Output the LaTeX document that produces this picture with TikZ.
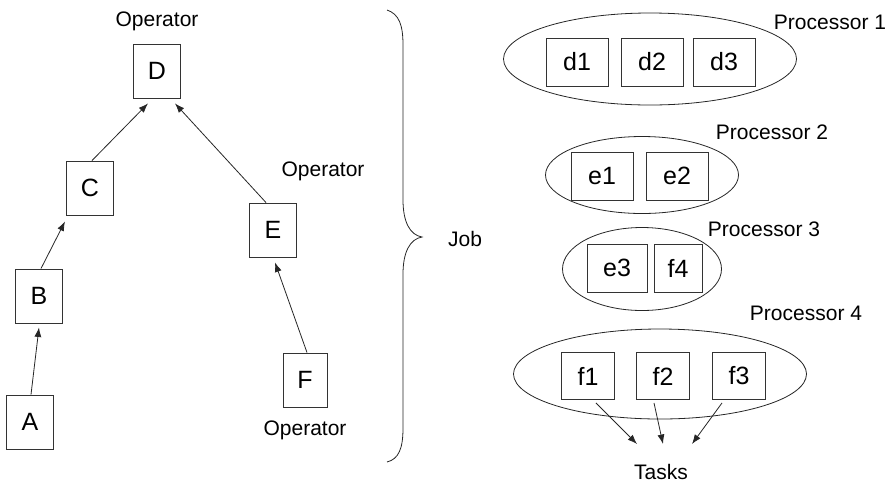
\documentclass[tikz,border=0pt]{standalone}
\usepackage{fontspec}
\setmainfont{Liberation Sans}
\usetikzlibrary{arrows.meta,shapes.geometric}
\begin{document}
\begin{tikzpicture}[x=1pt,y=-1pt,
  line width=0.8pt, draw=black!85,
  opbox/.style={draw=black!80, line width=0.9pt, fill=white, inner sep=0pt, minimum width=47pt, minimum height=54pt, font=\fontsize{25}{30}\selectfont},
  taskbox/.style={draw=black!80, line width=0.9pt, fill=white, inner sep=0pt, minimum width=62pt, minimum height=48pt, font=\fontsize{25}{30}\selectfont},
  procell/.style={ellipse, draw=black!85, line width=0.8pt, inner sep=0pt},
  lbl/.style={inner sep=0pt, font=\fontsize{21}{25}\selectfont},
  arr/.style={draw=black!85, line width=0.8pt, -{Latex[length=9.5pt,width=7pt]}}]
\useasboundingbox (0,0) rectangle (890,483);
% tree
\node[opbox] (D) at (157,71) {D};
\node[opbox] (C) at (90,188) {C};
\node[opbox] (B) at (39,296) {B};
\node[opbox] (A) at (30,422) {A};
\node[opbox] (E) at (273,230) {E};
\node[opbox, minimum width=44pt] (F) at (305,380) {F};
\node[lbl] (opD) at (157,21) {Operator};
\node[lbl] (opE) at (323,171) {Operator};
\node[lbl] (opF) at (305,430) {Operator};
\draw[arr] ([xshift=2pt]C.north) -- ([xshift=-9pt,yshift=-5pt]D.south);
\draw[arr] ([xshift=-7pt]E.north) -- ([xshift=18pt,yshift=-5pt]D.south);
\draw[arr] ([xshift=2pt]B.north) -- ([xshift=-25pt,yshift=-6pt]C.south);
\draw[arr] ([xshift=1pt]A.north) -- ([yshift=-4pt]B.south);
\draw[arr] ([xshift=2pt]F.north) -- ([xshift=2pt,yshift=-5pt]E.south);
% brace
\draw[line width=0.8pt, draw=black!85] (387,10) .. controls (399,14) and (403,25) .. (403,45)
  -- (403,200) .. controls (403,222) and (410,235) .. (422,237)
  .. controls (410,239) and (403,252) .. (403,274)
  -- (403,428) .. controls (403,448) and (399,459) .. (387,462);
\node[lbl] (job) at (465,239) {Job};
% processors
\node[procell, minimum width=293pt, minimum height=92pt] (P1) at (650,59) {};
\node[procell, minimum width=193pt, minimum height=77pt] (P2) at (642,175) {};
\node[procell, minimum width=159pt, minimum height=83pt] (P3) at (642,269) {};
\node[procell, minimum width=293pt, minimum height=90pt] (P4) at (660,374) {};
\node[taskbox] (d1) at (577,62) {d1};
\node[taskbox] (d2) at (652,62) {d2};
\node[taskbox] (d3) at (724,62) {d3};
\node[taskbox] (e1) at (602,176) {e1};
\node[taskbox] (e2) at (677,176) {e2};
\node[taskbox, minimum width=60pt] (e3) at (617,268) {e3};
\node[taskbox, minimum width=48pt] (f4) at (678,268) {f4};
\node[taskbox, minimum width=53pt, minimum height=47pt] (f1) at (588,376) {f1};
\node[taskbox, minimum width=53pt, minimum height=47pt] (f2) at (663,376) {f2};
\node[taskbox, minimum width=53pt, minimum height=47pt] (f3) at (739,376) {f3};
\node[lbl] (L1) at (830,22) {Processor 1};
\node[lbl] (L2) at (772,132) {Processor 2};
\node[lbl] (L3) at (764,229) {Processor 3};
\node[lbl] (L4) at (806,313) {Processor 4};
\node[lbl] (tasks) at (661,472) {Tasks};
\coordinate (t1) at (637,444);
\coordinate (t2) at (663,444);
\coordinate (t3) at (692,444);
\draw[arr] ([xshift=8pt,yshift=-3pt]f1.south) -- (t1);
\draw[arr] ([xshift=-9pt,yshift=-3pt]f2.south) -- (t2);
\draw[arr] ([xshift=-17pt,yshift=-3pt]f3.south) -- (t3);
\end{tikzpicture}
\end{document}
